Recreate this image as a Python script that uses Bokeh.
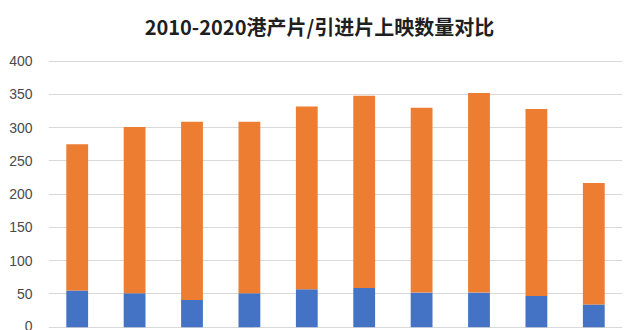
from bokeh.plotting import figure
from bokeh.models import Range1d, FactorRange, FixedTicker, Label, ColumnDataSource
from bokeh.embed import file_html
from bokeh.resources import INLINE

years = ["2010", "2011", "2012", "2013", "2014", "2015", "2016", "2017", "2018", "2019"]
hk_films = [55, 51, 41, 51, 57, 59, 52, 52, 47, 34]
imported_films = [220, 250, 268, 258, 275, 289, 278, 300, 281, 183]
y_ticks = [0, 50, 100, 150, 200, 250, 300, 350, 400]
title_text = "2010-2020港产片/引进片上映数量对比"

source = ColumnDataSource(dict(year=years, hk=hk_films, imported=imported_films))

p = figure(
    width=640, height=330,
    x_range=FactorRange(*years, range_padding=0),
    y_range=Range1d(-5, 491.3),
    output_backend="svg", toolbar_location=None,
    min_border_left=48, min_border_right=18, min_border_top=0, min_border_bottom=0,
)
p.vbar_stack(["hk", "imported"], x="year", width=0.38, source=source,
             color=["#4472C4", "#ED7D31"], line_color=None)

p.outline_line_color = None
p.background_fill_color = "white"
p.border_fill_color = "white"
p.xaxis.visible = False
p.xgrid.grid_line_color = None
p.yaxis.ticker = FixedTicker(ticks=y_ticks)
p.ygrid.ticker = FixedTicker(ticks=y_ticks)
p.ygrid.grid_line_color = "#d9d9d9"
p.ygrid.grid_line_width = 1
p.yaxis.axis_line_color = None
p.yaxis.major_tick_line_color = None
p.yaxis.minor_tick_line_color = None
p.yaxis.major_label_standoff = 10
p.yaxis.major_label_text_font = "Liberation Sans"
p.yaxis.major_label_text_font_size = "14px"
p.yaxis.major_label_text_color = "#4a4a4a"

p.add_layout(Label(x=4.72, y=452, text=title_text, text_align="center", text_baseline="middle",
                   text_font="Noto Sans CJK SC", text_font_style="bold",
                   text_font_size="20px", text_color="#1f1f1f"))

open("out.html", "w").write(file_html(p, INLINE))
